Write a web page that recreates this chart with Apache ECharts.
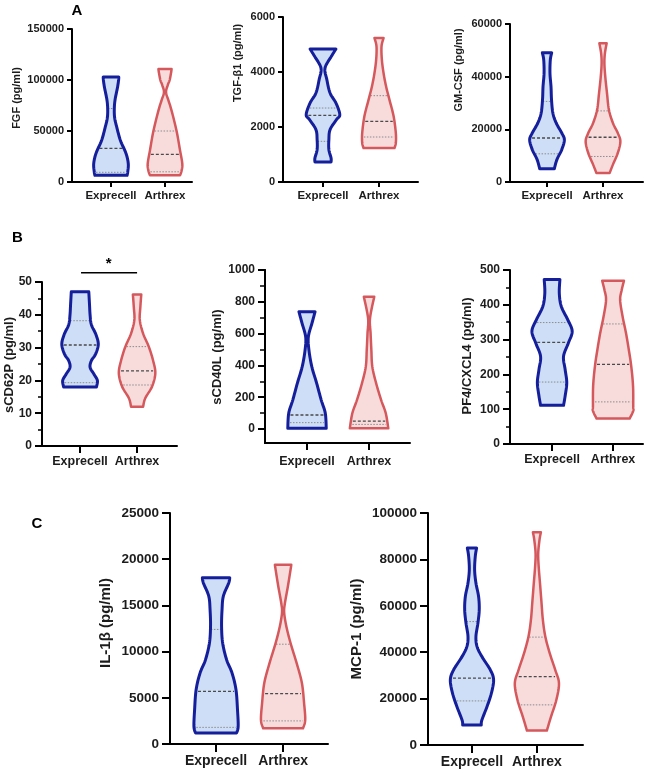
<!DOCTYPE html>
<html><head><meta charset="utf-8">
<script src="https://cdn.jsdelivr.net/npm/echarts@6/dist/echarts.min.js"></script>
<style>html,body{margin:0;padding:0;background:#fff}#c{width:658px;height:773px}</style>
</head><body><div id="c"></div>
<script>
const categories = ['Exprecell', 'Arthrex'];

// Violin outlines: [value, relative half-width], bottom -> top
const FGF_EXP = [[6500,0.93],[10000,0.97],[18000,1.0],[28000,0.87],[41000,0.54],[54000,0.33],[62000,0.22],[70000,0.19],[80000,0.23],[93000,0.38],[100000,0.44],[103000,0.45]];
const FGF_ARTH = [[6500,0.87],[11000,0.96],[18000,1.0],[31000,0.87],[50000,0.67],[70000,0.38],[80000,0.2],[88000,0.06],[95000,0.16],[100000,0.27],[107000,0.35],[110700,0.38]];
const TGF_EXP = [[727,0.48],[873,0.48],[1176,0.35],[1540,0.35],[1903,0.42],[2266,0.8],[2450,1.0],[2873,0.77],[3236,0.42],[3720,0.23],[4145,0.12],[4570,0.5],[4836,0.77]];
const TGF_ARTH = [[1236,0.92],[1418,1.0],[1782,1.0],[2388,0.87],[2994,0.62],[3478,0.42],[3963,0.27],[4448,0.17],[4933,0.15],[5236,0.27]];
const GM_EXP = [[5000,0.42],[8500,0.57],[12300,0.85],[16000,1.0],[18600,0.85],[22400,0.53],[26100,0.34],[31200,0.26],[36200,0.23],[41300,0.17],[46400,0.19],[49100,0.27]];
const GM_ARTH = [[3400,0.38],[6600,0.57],[11000,0.85],[15400,1.0],[18600,0.85],[22400,0.57],[27400,0.34],[33700,0.23],[40000,0.13],[45100,0.08],[48900,0.11],[52700,0.21]];
const CD62P_EXP = [[18,0.9],[20,0.95],[22,0.75],[24,0.55],[26,0.62],[28,0.85],[31,1.0],[34,0.87],[37,0.62],[40,0.55],[43,0.52],[47,0.48]];
const CD62P_ARTH = [[12,0.33],[14.6,0.45],[18.1,0.82],[22.2,1.0],[26.2,0.87],[30.3,0.64],[34.3,0.33],[38.4,0.15],[42.4,0.18],[46.2,0.23]];
const CD40L_EXP = [[5,1.0],[100,0.95],[182,0.74],[289,0.5],[392,0.25],[497,0.1],[580,0.07],[666,0.26],[738,0.42]];
const CD40L_ARTH = [[4,1.0],[99,0.87],[182,0.63],[287,0.37],[392,0.17],[497,0.12],[601,0.08],[696,0.05],[832,0.27]];
const PF4_EXP = [[111,0.57],[138,0.65],[176,0.73],[214,0.65],[252,0.57],[290,0.81],[324,1.0],[357,0.78],[395,0.46],[433,0.36],[473,0.39]];
const PF4_ARTH = [[73,0.82],[95,1.0],[109,1.0],[167,0.99],[224,0.9],[271,0.78],[319,0.64],[367,0.47],[414,0.35],[443,0.43],[469,0.54]];
const IL1B_EXP = [[1200,0.93],[1900,1.0],[3700,0.97],[5900,0.9],[7700,0.72],[9100,0.48],[10900,0.3],[12700,0.25],[14500,0.27],[16000,0.33],[17400,0.57],[18000,0.62]];
const IL1B_ARTH = [[1700,0.9],[2600,1.0],[4400,0.95],[6600,0.85],[8700,0.62],[10900,0.34],[12700,0.15],[14200,0.05],[15200,0.08],[17100,0.22],[18900,0.34],[19400,0.37]];
const MCP_EXP = [[8600,0.42],[10800,0.45],[16500,0.68],[22300,0.88],[28100,0.98],[32400,0.83],[38100,0.45],[42400,0.23],[46800,0.18],[52500,0.27],[58300,0.33],[64000,0.3],[69800,0.18],[75500,0.12],[81300,0.15],[84900,0.21]];
const MCP_ARTH = [[6200,0.45],[12200,0.64],[19400,0.88],[26600,1.0],[32400,0.83],[39600,0.58],[46800,0.38],[54000,0.27],[61200,0.21],[69800,0.14],[77000,0.08],[82700,0.06],[88500,0.12],[91700,0.18]];

// Quartile lines [Q1, median, Q3]
const FGF_EXP_Q = [9500, 33000, 72000];
const FGF_ARTH_Q = [10000, 27000, 50000];
const TGF_EXP_Q = [1479, 2424, 2690];
const TGF_ARTH_Q = [1636, 2206, 3139];
const GM_EXP_Q = [10700, 16700, 30600];
const GM_ARTH_Q = [9700, 17000, 27000];
const CD62P_EXP_Q = [19.3, 30.8, 38.2];
const CD62P_ARTH_Q = [18.6, 22.9, 30.3];
const CD40L_EXP_Q = [40, 88, null];
const CD40L_ARTH_Q = [29, 50, null];
const PF4_EXP_Q = [178, 292, 349];
const PF4_ARTH_Q = [121, 229, 345];
const IL1B_EXP_Q = [1800, 5700, 12400];
const IL1B_ARTH_Q = [2500, 5450, 10800];
const MCP_EXP_Q = [19000, 28800, 53200];
const MCP_ARTH_Q = [17300, 29500, 46500];

// y axis ranges [min, max, interval]
const Y_FGF = [0, 150000, 50000];
const Y_TGF = [0, 6000, 2000];
const Y_GM = [0, 60000, 20000];
const Y_CD62P = [0, 50, 10];
const Y_CD40L_TICKS = [0, 200, 400, 600, 800, 1000];
const Y_CD40L_MINOR = [100, 300, 500, 700, 900];
const Y_PF4 = [0, 500, 100];
const Y_IL1B = [0, 25000, 5000];
const Y_MCP = [0, 100000, 20000];
const SIG_CD62P = [[1, 2, 52.8, '*']];

const FONT = '"Liberation Sans", Arial, Helvetica, sans-serif';
const BLUE = {stroke:'#151f9b', fill:'#cddef6', lw:3};
const RED = {stroke:'#d4585c', fill:'#f8dcdc', lw:2.5};
const TXT = '#1c1c1c';

const panels = [
  {title:'FGF (pg/ml)', box:[72,29,120,153], xr:[0.278,2.5], y:Y_FGF, half:0.32, fs:[11,11.5,11], tp:[16.5,98], tick:5, lm:8, exp:FGF_EXP, arth:FGF_ARTH, eq:FGF_EXP_Q, aq:FGF_ARTH_Q},
  {title:'TGF-β1 (pg/ml)', box:[283,17,135,165], xr:[0.286,2.696], y:Y_TGF, half:0.30, fs:[11,11.5,11], tp:[237.5,63], tick:5, lm:8, exp:TGF_EXP, arth:TGF_ARTH, eq:TGF_EXP_Q, aq:TGF_ARTH_Q},
  {title:'GM-CSF (pg/ml)', box:[510,24,133,158], xr:[0.339,2.714], y:Y_GM, half:0.31, fs:[11,11.5,11], tp:[459,70], tick:5, lm:8, exp:GM_EXP, arth:GM_ARTH, eq:GM_EXP_Q, aq:GM_ARTH_Q},
  {title:'sCD62P (pg/ml)', box:[42,282,135,164], xr:[0.333,2.70], y:Y_CD62P, minor:true, half:0.32, fs:[12,12.5,13], tp:[9,365], tick:7, lm:9, exp:CD62P_EXP, arth:CD62P_ARTH, eq:CD62P_EXP_Q, aq:CD62P_ARTH_Q},
  {title:'sCD40L (pg/ml)', box:[265,270,145,173], xr:[0.323,2.66], y:null, half:0.31, fs:[12,12.5,13], tp:[217.5,357], tick:7, lm:12, exp:CD40L_EXP, arth:CD40L_ARTH, eq:CD40L_EXP_Q, aq:CD40L_ARTH_Q},
  {title:'PF4/CXCL4 (pg/ml)', box:[510,270,133,174], xr:[0.311,2.49], y:Y_PF4, minor:true, half:0.33, fs:[12,12.5,13], tp:[467.5,356], tick:7, lm:9, exp:PF4_EXP, arth:PF4_ARTH, eq:PF4_EXP_Q, aq:PF4_ARTH_Q},
  {title:'IL-1β (pg/ml)', box:[170,513,158,231], xr:[0.313,2.67], y:Y_IL1B, half:0.33, fs:[13.5,14,15], tp:[106,623], tick:8, lm:10, exp:IL1B_EXP, arth:IL1B_ARTH, eq:IL1B_EXP_Q, aq:IL1B_ARTH_Q},
  {title:'MCP-1 (pg/ml)', box:[428,513,155,232], xr:[0.323,2.71], y:Y_MCP, half:0.34, fs:[13.5,14,15], tp:[357,629], tick:8, lm:10, exp:MCP_EXP, arth:MCP_ARTH, eq:MCP_EXP_Q, aq:MCP_ARTH_Q}
];

function smoothPts(pts) {
  const out = [];
  const n = pts.length;
  for (let i = 0; i < n - 1; i++) {
    const p0 = pts[Math.max(i-1,0)], p1 = pts[i], p2 = pts[i+1], p3 = pts[Math.min(i+2,n-1)];
    const c1 = [p1[0]+(p2[0]-p0[0])/6, p1[1]+(p2[1]-p0[1])/6];
    const c2 = [p2[0]-(p3[0]-p1[0])/6, p2[1]-(p3[1]-p1[1])/6];
    const S = 8;
    for (let s = 0; s < S; s++) {
      const t = s / S, u = 1 - t;
      out.push([
        u*u*u*p1[0] + 3*u*u*t*c1[0] + 3*u*t*t*c2[0] + t*t*t*p2[0],
        u*u*u*p1[1] + 3*u*u*t*c1[1] + 3*u*t*t*c2[1] + t*t*t*p2[1]
      ]);
    }
  }
  out.push(pts[n-1]);
  return out;
}
function widthAt(shape, v) {
  if (v <= shape[0][0]) return shape[0][1];
  for (let i = 0; i < shape.length - 1; i++) {
    const a = shape[i], b = shape[i+1];
    if (v >= a[0] && v <= b[0]) return a[1] + (b[1]-a[1]) * (v-a[0])/(b[0]-a[0]);
  }
  return shape[shape.length-1][1];
}
function makeViolin(shape, q, col, half) {
  return function (params, api) {
    const xc = api.value(0);
    const left = shape.map(([v,w]) => api.coord([xc - w*half, v]));
    const right = shape.map(([v,w]) => api.coord([xc + w*half, v]));
    const pts = smoothPts(left).concat(smoothPts(right).reverse());
    const children = [{type:'polygon', shape:{points:pts}, style:{fill:col.fill, stroke:null}}];
    q.forEach((v, k) => {
      if (v == null) return;
      const w = widthAt(shape, v) * half * 0.9;
      const a = api.coord([xc - w, v]), b = api.coord([xc + w, v]);
      const med = k === 1;
      children.push({type:'line', shape:{x1:a[0], y1:a[1], x2:b[0], y2:b[1]},
        style:{stroke: med ? '#4a4a4a' : '#8c8c8c', lineWidth: med ? 1.3 : 1, lineDash: med ? [3,2] : [1.5,1.5]}});
    });
    children.push({type:'polygon', shape:{points:pts}, style:{fill:null, stroke:col.stroke, lineWidth:col.lw, lineJoin:'round'}});
    return {type:'group', children};
  };
}

const grids = [], xAxes = [], yAxes = [], series = [], graphics = [];
panels.forEach((p, i) => {
  grids.push({left:p.box[0], top:p.box[1], width:p.box[2], height:p.box[3]});
  xAxes.push({
    type:'value', gridIndex:i, min:p.xr[0], max:p.xr[1],
    axisLine:{show:true, onZero:false, lineStyle:{color:'#000', width:2}},
    axisTick:{show:true, customValues:[1,2], length:p.tick, lineStyle:{color:'#000', width:2}},
    axisLabel:{show:true, customValues:[1,2], formatter:(v)=>categories[Math.round(v)-1] || '', margin:p.lm,
      color:TXT, fontWeight:'bold', fontSize:p.fs[1], fontFamily:FONT},
    splitLine:{show:false}
  });
  const ya = {
    type:'value', gridIndex:i, position:'left',
    axisLine:{show:true, onZero:false, lineStyle:{color:'#000', width:2}},
    axisTick:{show:true, length:p.tick, lineStyle:{color:'#000', width:2}},
    axisLabel:{show:true, margin:p.tick+3, color:TXT, fontWeight:'bold', fontSize:p.fs[0], fontFamily:FONT,
      formatter:(v)=>String(v)},
    splitLine:{show:false}
  };
  if (p.y) {
    ya.min = p.y[0]; ya.max = p.y[1]; ya.interval = p.y[2];
    if (p.minor) ya.minorTick = {show:true, splitNumber:2, length:4, lineStyle:{color:'#000', width:1.5}};
  } else {
    ya.min = -88; ya.max = 1000;
    ya.axisTick.customValues = Y_CD40L_TICKS;
    ya.axisLabel.customValues = Y_CD40L_TICKS;
  }
  yAxes.push(ya);
  [[p.exp, p.eq, BLUE, 1], [p.arth, p.aq, RED, 2]].forEach(([shape, q, col, xpos]) => {
    series.push({type:'custom', xAxisIndex:i, yAxisIndex:i, clip:false, silent:true,
      data:[[xpos, shape[0][0]]], renderItem:makeViolin(shape, q, col, p.half)});
  });
  graphics.push({type:'text', x:p.tp[0], y:p.tp[1], rotation:Math.PI/2,
    style:{text:p.title, fill:TXT, font:`bold ${p.fs[2]}px ${FONT}`, textAlign:'center', textVerticalAlign:'middle'}});
});
// minor ticks for sCD40L (second axis on the same grid, same scale)
yAxes.push({type:'value', gridIndex:4, position:'left', offset:0, min:-88, max:1000,
  axisLine:{show:true, onZero:false, lineStyle:{color:'#000', width:2}}, axisLabel:{show:false}, splitLine:{show:false},
  axisTick:{show:true, customValues:Y_CD40L_MINOR, length:5, lineStyle:{color:'#000', width:1.5}}});

// significance bar on sCD62P
series.push({type:'custom', xAxisIndex:3, yAxisIndex:3, clip:false, silent:true, data:SIG_CD62P,
  renderItem:(params, api) => {
    const a = api.coord([api.value(0), api.value(2)]), b = api.coord([api.value(1), api.value(2)]);
    return {type:'group', children:[
      {type:'line', shape:{x1:a[0]+1, y1:a[1], x2:b[0], y2:b[1]}, style:{stroke:'#000', lineWidth:1.5}},
      {type:'text', x:(a[0]+b[0])/2, y:a[1]-1, style:{text:SIG_CD62P[params.dataIndex][3], fill:'#000',
        font:`bold 15px ${FONT}`, textAlign:'center', textVerticalAlign:'bottom'}}
    ]};
  }});

[['A',77,11],['B',17.5,238],['C',37,524]].forEach(([t,x,y]) => graphics.push({type:'text', x, y,
  style:{text:t, fill:'#000', font:`bold 15px ${FONT}`, textAlign:'center', textVerticalAlign:'middle'}}));

const chart = echarts.init(document.getElementById('c'));
chart.setOption({animation:false, backgroundColor:'#fff', grid:grids, xAxis:xAxes, yAxis:yAxes, series, graphic:graphics});
</script></body></html>
